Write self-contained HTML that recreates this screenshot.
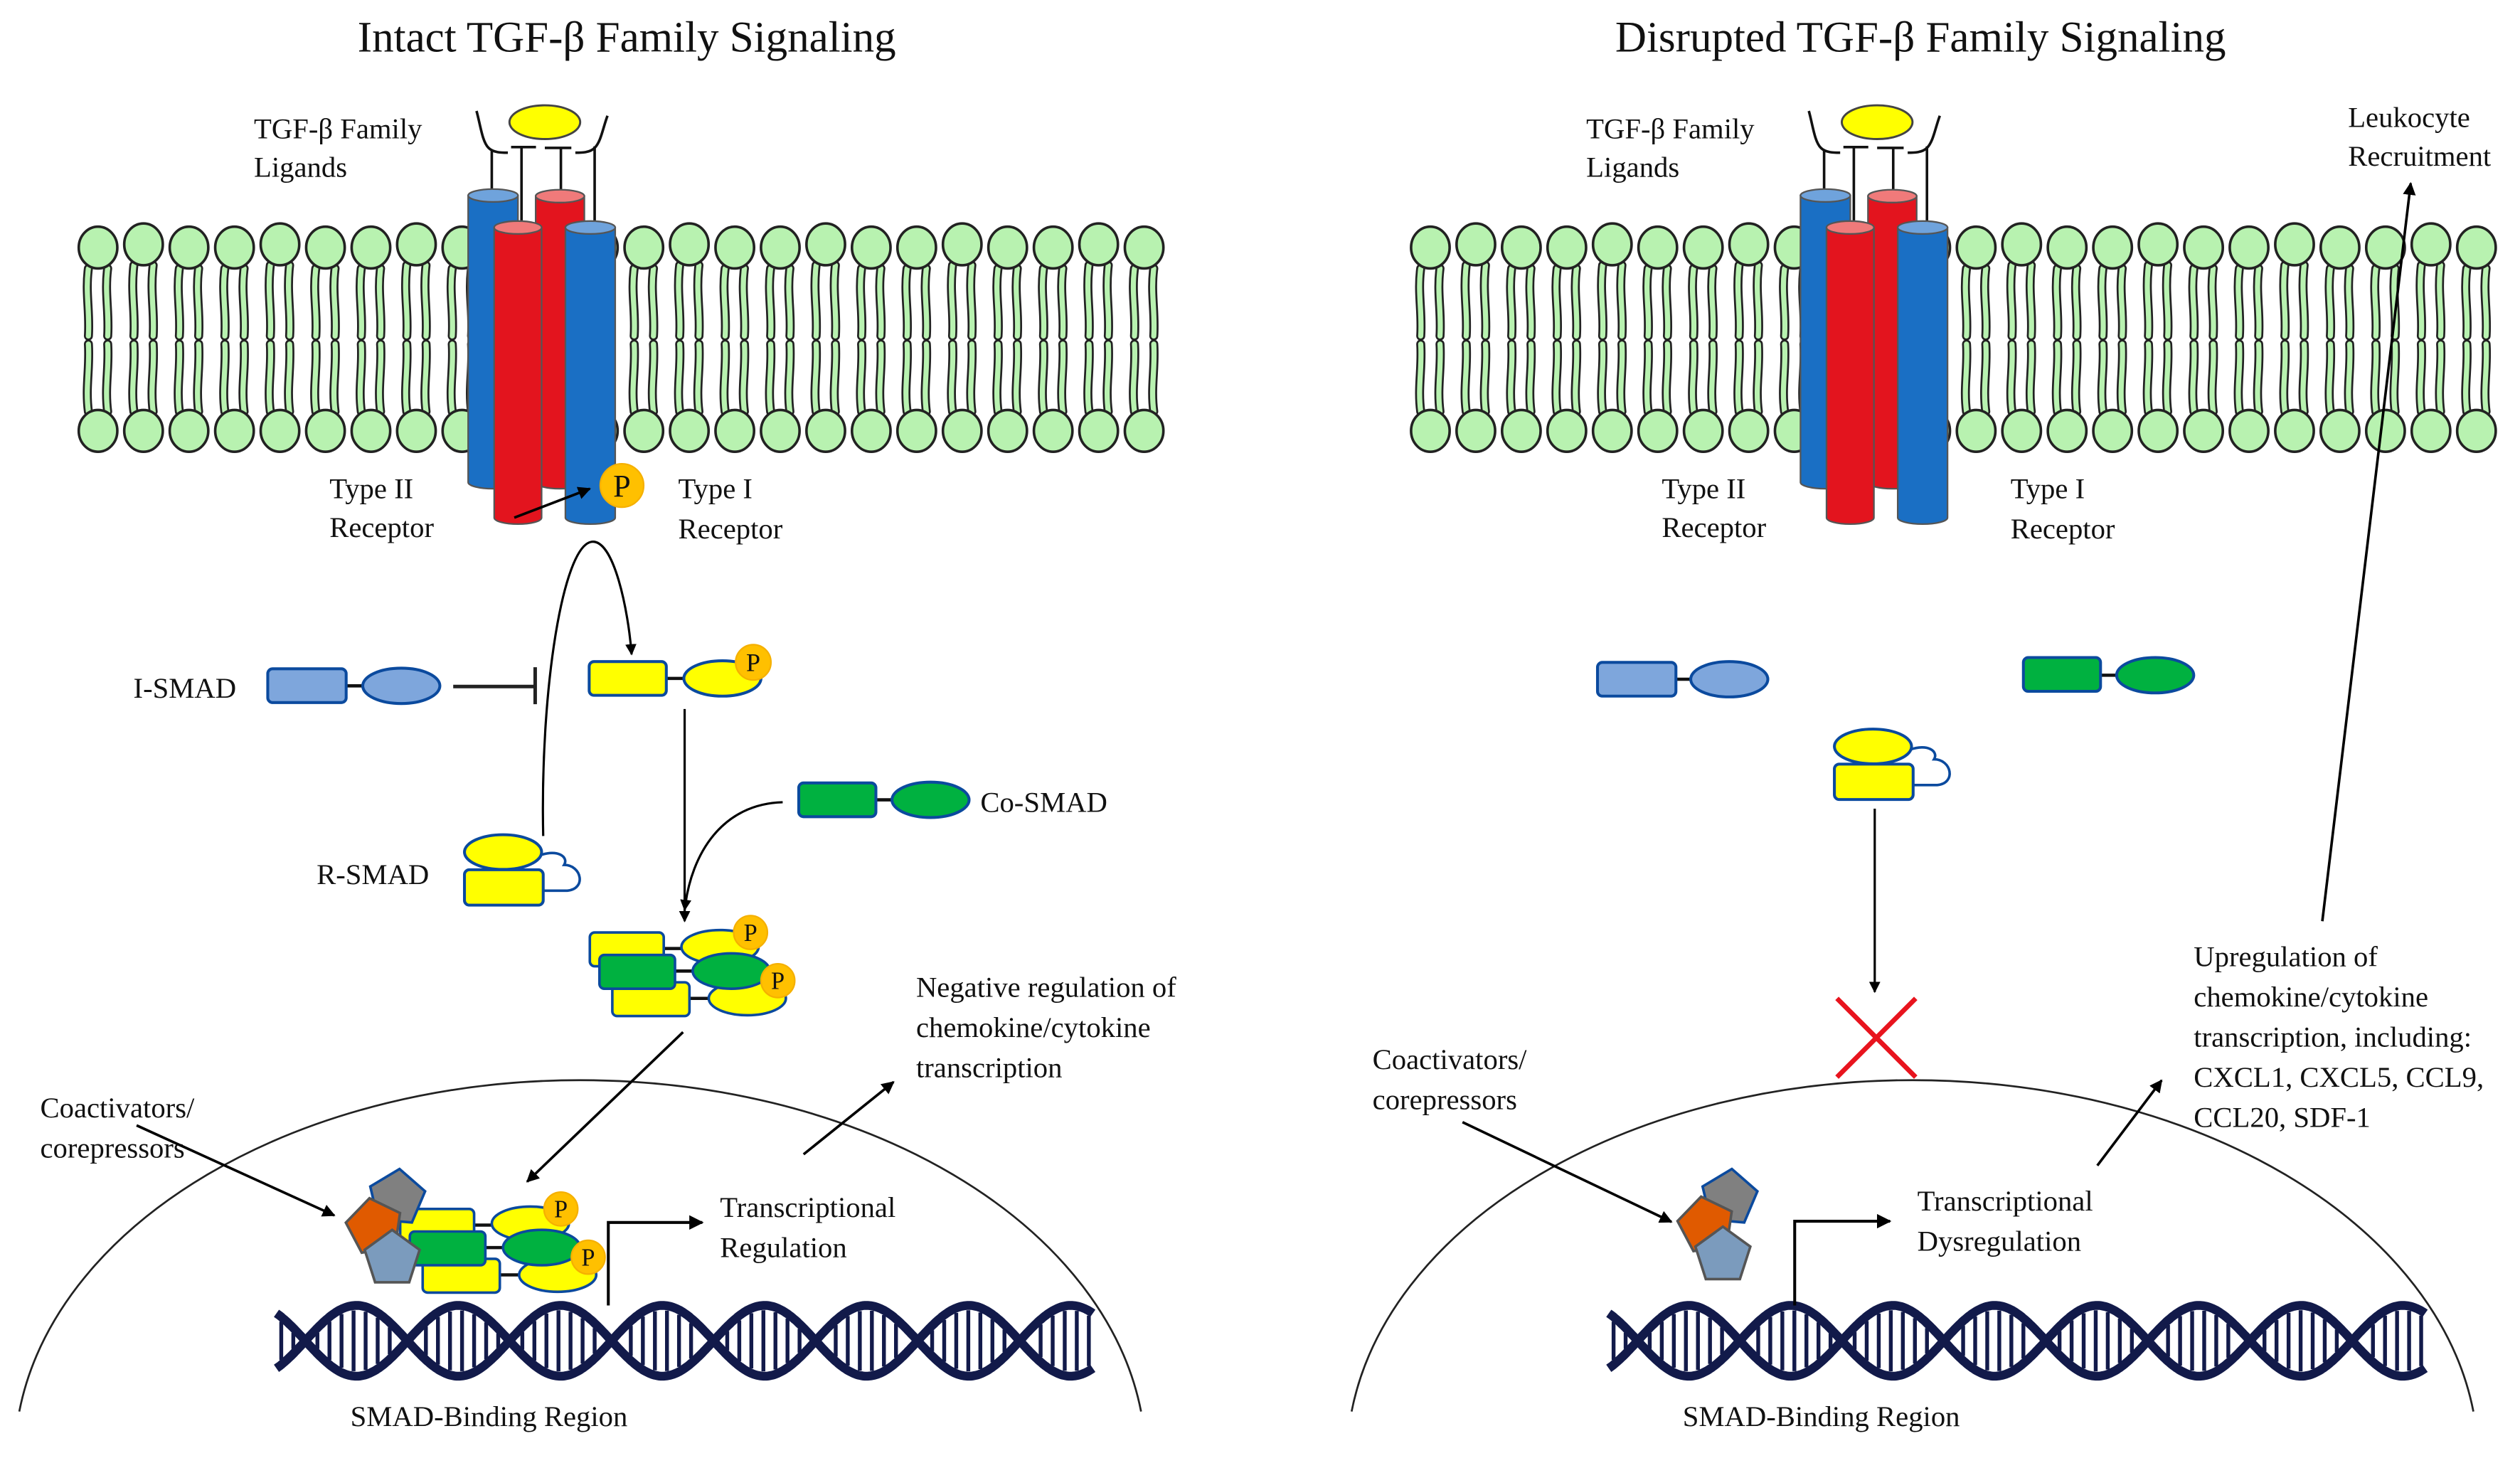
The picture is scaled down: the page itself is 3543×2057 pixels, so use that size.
<!DOCTYPE html>
<html><head><meta charset="utf-8">
<style>
html,body{margin:0;padding:0;background:#fff;}
svg{display:block;}
text{font-family:"Liberation Serif","Times New Roman",serif;fill:#111;}
</style></head>
<body>
<svg id="s" width="3543" height="2057" viewBox="0 0 1568 910" preserveAspectRatio="none" xmlns="http://www.w3.org/2000/svg">
<defs>
<marker id="ah" viewBox="0 0 10 10" refX="9" refY="5" markerWidth="5" markerHeight="5" orient="auto-start-reverse" markerUnits="strokeWidth">
<path d="M0,0 L10,5 L0,10 z" fill="#000"/></marker>
</defs>
<rect width="1568" height="910" fill="#fff"/>
<g id="root"></g>
</svg>
<script>
var h=[];
function add(s){h.push(s);}
function lip(x0){
 for(var i=0;i<24;i++){var x=x0+i*28.3,yo=(i%3==1)?-2:0;
  var t='';
  [[-6,167,209],[6,167,209]].forEach(function(a){t+='M'+(x+a[0])+','+(a[1]+yo)+' C'+(x+a[0]-2)+','+(a[1]+15)+' '+(x+a[0]+1)+','+(a[2]-15)+' '+(x+a[0])+','+a[2]+' ';});
  [[-6,214,256],[6,214,256]].forEach(function(a){t+='M'+(x+a[0])+','+a[1]+' C'+(x+a[0]+1)+','+(a[1]+15)+' '+(x+a[0]-2)+','+(a[2]-15)+' '+(x+a[0])+','+a[2]+' ';});
  add('<path d="'+t+'" stroke="#222" stroke-width="5.6" fill="none" stroke-linecap="round"/>');
  add('<path d="'+t+'" stroke="#b8f2b0" stroke-width="3.2" fill="none" stroke-linecap="round"/>');
  add('<ellipse cx="'+x+'" cy="'+(154+yo)+'" rx="12" ry="13" fill="#b8f2b0" stroke="#222" stroke-width="1.6"/>');
  add('<ellipse cx="'+x+'" cy="268" rx="12" ry="13" fill="#b8f2b0" stroke="#222" stroke-width="1.6"/>');
 }
}
function cyl(x1,x2,yt,yb,c,top){
 var cx=(x1+x2)/2,rx=(x2-x1)/2;
 add('<path d="M'+x1+','+yt+' L'+x1+','+yb+' A'+rx+',4 0 0 0 '+x2+','+yb+' L'+x2+','+yt+' z" fill="'+c+'" stroke="#555" stroke-width="1"/>');
 add('<ellipse cx="'+cx+'" cy="'+yt+'" rx="'+rx+'" ry="4" fill="'+top+'" stroke="#555" stroke-width="1"/>');
}
function rec(o){
 var B="#1a6fc4",BT="#6fa3dc",R="#e3141e",RT="#f07a7a";
 add('<ellipse cx="'+(339+o)+'" cy="76" rx="22" ry="10.5" fill="#ffff00" stroke="#444" stroke-width="1.3"/>');
 add('<path d="M'+(296.5+o)+',69 C'+(299+o)+',78 '+(300+o)+',88 '+(304+o)+',92 C'+(307+o)+',95 '+(312+o)+',95 '+(316+o)+',95" stroke="#111" stroke-width="1.6" fill="none"/>');
 add('<path d="M'+(378+o)+',72 C'+(375+o)+',80 '+(374+o)+',88 '+(370+o)+',92 C'+(367+o)+',95 '+(362+o)+',95 '+(358+o)+',95" stroke="#111" stroke-width="1.6" fill="none"/>');
 add('<path d="M'+(318+o)+',91.5 H'+(333.5+o)+' M'+(324.5+o)+',91.5 V140 M'+(339+o)+',92 H'+(355.5+o)+' M'+(349+o)+',92 V120 M'+(306+o)+',93 V120 M'+(370+o)+',91 V140" stroke="#111" stroke-width="1.6" fill="none"/>');
 cyl(291.3+o,322.3+o,121.6,300,B,BT);
 cyl(333.3+o,363.6+o,122,300,R,RT);
 cyl(307.5+o,337+o,141.5,322,R,RT);
 cyl(351.8+o,382.8+o,141.5,322,B,BT);
}
var FF=' font-family="Liberation Serif, Times New Roman, serif"';
function P(x,y,r){add('<circle cx="'+x+'" cy="'+y+'" r="'+r+'" fill="#ffc000" stroke="#f5b000" stroke-width="1"/><text'+FF+' x="'+x+'" y="'+(y+r*0.5)+'" font-size="'+(r*1.45)+'" text-anchor="middle">P</text>');}
function smad(x,y,w,c,st,ex,ey){
 add('<line x1="'+(x+w)+'" y1="'+ey+'" x2="'+(ex-20)+'" y2="'+ey+'" stroke="#111" stroke-width="2"/>');
 add('<rect x="'+x+'" y="'+y+'" width="'+w+'" height="21" rx="3" fill="'+c+'" stroke="'+st+'" stroke-width="1.8"/>');
 add('<ellipse cx="'+ex+'" cy="'+ey+'" rx="24" ry="11" fill="'+c+'" stroke="'+st+'" stroke-width="1.8"/>');
}
var BL="#0b4a9e";
function rsmad(cx,cy){
 add('<path d="M'+(cx+23)+','+(cy+2)+' C'+(cx+34)+','+(cy-2)+' '+(cx+41)+','+(cy+3)+' '+(cx+38)+','+(cy+8)+' C'+(cx+49)+','+(cy+8)+' '+(cx+52)+','+(cy+23)+' '+(cx+40)+','+(cy+24)+' L'+(cx+24)+','+(cy+24)+'" stroke="'+BL+'" stroke-width="1.6" fill="#fff"/>');
 add('<ellipse cx="'+cx+'" cy="'+cy+'" rx="24" ry="10.8" fill="#ffff00" stroke="'+BL+'" stroke-width="1.8"/>');
 add('<rect x="'+(cx-24)+'" y="'+(cy+11)+'" width="49" height="22" rx="3" fill="#ffff00" stroke="'+BL+'" stroke-width="1.8"/>');
}
function cplx(dx,dy){
 var Y="#ffff00",G="#00b140";
 add('<path d="M'+(413+dx)+','+(590+dy)+' h18 M'+(420+dx)+','+(604+dy)+' h14 M'+(429+dx)+','+(621+dy)+' h16" stroke="#111" stroke-width="2"/>');
 add('<rect x="'+(367+dx)+'" y="'+(580+dy)+'" width="46" height="21" rx="3" fill="'+Y+'" stroke="'+BL+'" stroke-width="1.6"/>');
 add('<rect x="'+(381+dx)+'" y="'+(611+dy)+'" width="48" height="21" rx="3" fill="'+Y+'" stroke="'+BL+'" stroke-width="1.6"/>');
 add('<rect x="'+(373+dx)+'" y="'+(594+dy)+'" width="47" height="21" rx="3" fill="'+G+'" stroke="'+BL+'" stroke-width="1.6"/>');
 add('<ellipse cx="'+(448+dx)+'" cy="'+(589+dy)+'" rx="24" ry="10.5" fill="'+Y+'" stroke="'+BL+'" stroke-width="1.6"/>');
 add('<ellipse cx="'+(465+dx)+'" cy="'+(621+dy)+'" rx="24" ry="10.5" fill="'+Y+'" stroke="'+BL+'" stroke-width="1.6"/>');
 add('<ellipse cx="'+(455+dx)+'" cy="'+(604+dy)+'" rx="24" ry="11" fill="'+G+'" stroke="'+BL+'" stroke-width="1.6"/>');
 P(467+dx,580+dy,10.5);P(484+dx,610+dy,10.5);
}
function pent(cx,cy,r,c,st,rot){
 var p=[];for(var i=0;i<5;i++){var a=(rot-90+72*i)*Math.PI/180;p.push((cx+r*Math.cos(a)).toFixed(1)+','+(cy+r*Math.sin(a)).toFixed(1));}
 add('<polygon points="'+p.join(' ')+'" fill="'+c+'" stroke="'+st+'" stroke-width="1.6"/>');
}
function pents(dx,dy){
 pent(247+dx,745+dy,18,"#808080","#0b4a9e",5);
 pent(233+dx,763+dy,18,"#e05a00","#555",-10);
 pent(244+dx,783+dy,18,"#7b9bbd","#555",0);
}
function dna(x0){
 var X1=x0,X2=x0+508,c0=x0+18,L=63.5,A=22,yc=834,p1='',p2='';
 for(var x=X1;x<=X2;x+=1){var s=Math.sin(Math.PI*(x-c0)/L);p1+=(x==X1?'M':'L')+x+','+(yc+A*s).toFixed(1)+' ';p2+=(x==X1?'M':'L')+x+','+(yc-A*s).toFixed(1)+' ';}
 var r='';
 for(var x=X1+3;x<X2;x+=7.5){var s=Math.sin(Math.PI*(x-c0)/L);var d=Math.abs(A*s);if(d>7)r+='M'+x.toFixed(1)+','+(yc-d+3).toFixed(1)+' V'+(yc+d-3).toFixed(1)+' ';}
 add('<path d="'+r+'" stroke="#121a4a" stroke-width="2.4"/>');
 add('<path d="'+p1+'" stroke="#121a4a" stroke-width="5.5" fill="none"/>');
 add('<path d="'+p2+'" stroke="#121a4a" stroke-width="5.5" fill="none"/>');
}
function T(x,y,s,fs,anc){add('<text'+FF+' x="'+x+'" y="'+y+'" font-size="'+(fs||18)+'"'+(anc?' text-anchor="'+anc+'"':'')+'>'+s+'</text>');}
function arr(d,w){add('<path d="'+d+'" stroke="#000" stroke-width="'+(w||1.6)+'" fill="none" marker-end="url(#ah)"/>');}

add('<path d="M12,878 A352,237 0 0 1 710,878" stroke="#222" stroke-width="1.2" fill="none"/>');
add('<path d="M841,878 A352,237 0 0 1 1539,878" stroke="#222" stroke-width="1.2" fill="none"/>');

lip(61);lip(890);
rec(0);rec(829);

T(390,32,"Intact TGF-β Family Signaling",27,"middle");
T(1195,32,"Disrupted TGF-β Family Signaling",27,"middle");
[0,829].forEach(function(o){
 T(158+o,86,"TGF-β Family");T(158+o,110,"Ligands");
 T(205+o,310,"Type II");T(205+o,334,"Receptor");
 T(422+o,310,"Type I");T(422+o,335,"Receptor");
 T(218+o,887,"SMAD-Binding Region");
});

P(387,302,13.5);
arr("M320,322 L367,304",1.6);
arr("M338,520 C336,430 350,340 368,337 C382,335 391,380 393,407",1.4);
T(83,434,"I-SMAD");
smad(166.6,416,48.8,"#7ea6dc",BL,249.7,426.6);
add('<path d="M282,427 H333 M333,415 V438" stroke="#222" stroke-width="2.2" fill="none"/>');
smad(366.6,411.5,48,"#ffff00",BL,449.5,422);
P(468.7,412,11);
T(197,550,"R-SMAD");
rsmad(313,530);
arr("M426,441 V573",1.4);
arr("M487,499 C450,500 430,530 426,566",1.4);
smad(497,487,48,"#00b140",BL,579,497.5);
T(610,505,"Co-SMAD");
cplx(0,0);
arr("M425,642 L328,735",1.6);
T(570,620,"Negative regulation of");T(570,645,"chemokine/cytokine");T(570,670,"transcription");
arr("M500,718 L556,673",1.6);
T(25,695,"Coactivators/");T(25,720,"corepressors");
arr("M85,700 L208,756",1.6);
dna(172);
cplx(-118,172);
pents(0,0);
arr("M378.5,812 V760.4 H437",1.8);
T(448,757,"Transcriptional");T(448,782,"Regulation");

smad(994,412,48.8,"#7ea6dc",BL,1076,422.5);
smad(1259,409,48,"#00b140",BL,1341,420);
rsmad(1165.4,464.3);
arr("M1166.5,503 V617",1.4);
add('<path d="M1143,621 L1192,670 M1192,621 L1143,670" stroke="#e8141e" stroke-width="3"/>');
T(854,665,"Coactivators/");T(854,690,"corepressors");
arr("M910,698 L1040,760",1.6);
dna(1001);
pent(1076,745,18,"#808080","#0b4a9e",5);
pent(1061.6,762,18,"#e05a00","#555",-10);
pent(1072,781,18,"#7b9bbd","#555",0);
arr("M1116.7,812 V759.6 H1176",1.8);
T(1193,753,"Transcriptional");T(1193,778,"Dysregulation");
arr("M1305,725 L1345,672",1.6);
T(1365,601,"Upregulation of");T(1365,626,"chemokine/cytokine");T(1365,651,"transcription, including:");T(1365,676,"CXCL1, CXCL5, CCL9,");T(1365,701,"CCL20, SDF-1");
arr("M1445,573 L1500,114",1.6);
T(1461,79,"Leukocyte");T(1461,103,"Recruitment");

document.getElementById("root").innerHTML=h.join("");
</script>
</body></html>
